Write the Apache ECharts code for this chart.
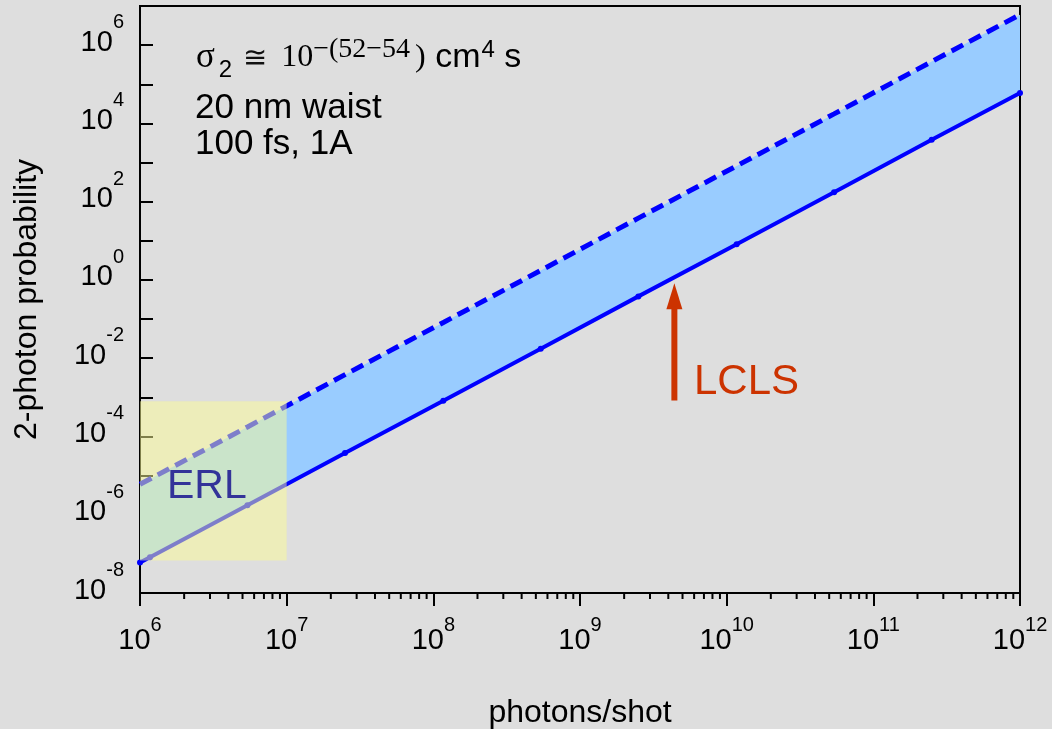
<!DOCTYPE html>
<html><head><meta charset="utf-8">
<script src="https://cdn.jsdelivr.net/npm/echarts@6/dist/echarts.min.js"></script>
<style>html,body{margin:0;padding:0;background:#dedede}#c{width:1052px;height:729px}</style>
</head><body><div id="c"></div>
<script>
// ---- data ----
const photons  = [1e6, 1.17e6, 5.4e6, 2.5e7, 1.17e8, 5.4e8, 2.5e9, 1.17e10, 5.4e10, 2.5e11, 1e12];
const probLow  = [6.0e-8, 8.2e-8, 1.75e-6, 3.8e-5, 8.2e-4, 1.75e-2, 0.38, 8.2, 175, 3800, 6.0e4];
const probHigh = [6.0e-6, 8.2e-6, 1.75e-4, 3.8e-3, 8.2e-2, 1.75, 38, 820, 1.75e4, 3.8e5, 6.0e6];
const xDecades = [1e6, 1e7, 1e8, 1e9, 1e10, 1e11];
const minorMultipliers = [2, 3, 4, 5, 6, 7, 8, 9];
const erlX = [1e6, 1e7];
const erlY = [6.8e-8, 8.0e-4];
const lclsX = 4.4e9;
const lclsY = [8.3e-4, 0.82];
const xRange = [1e6, 1e12];
const yRange = [1e-8, 1e7];

const minorX = [];
xDecades.forEach(d => minorMultipliers.forEach(m => minorX.push([d * m, yRange[0]])));

const SANS = 'Liberation Sans';
const SERIF = 'Liberation Serif';
const expOf = v => Math.round(Math.log10(v));
const xFmt = v => '{b|10}{s|' + expOf(v) + '}';
const yFmt = v => (expOf(v) % 2 === 0 ? '{b|10}{s|' + expOf(v) + '}' : '');

const chart = echarts.init(document.getElementById('c'), null, {renderer: 'canvas'});
chart.setOption({
  backgroundColor: '#dedede',
  animation: false,
  grid: {left: 140, right: 32, top: 6, bottom: 136, containLabel: false, outerBoundsMode: 'none',
         show: true, borderColor: '#000', borderWidth: 2, backgroundColor: 'transparent'},
  xAxis: {
    type: 'log', logBase: 10, min: xRange[0], max: xRange[1], interval: 1,
    name: 'photons/shot', nameLocation: 'middle', nameGap: 104,
    nameTextStyle: {fontFamily: SANS, fontSize: 32, color: '#000'},
    axisLine: {lineStyle: {color: '#000', width: 2}},
    axisTick: {inside: false, length: 13, interval: 0, lineStyle: {color: '#000', width: 2}},
    splitLine: {show: false},
    axisLabel: {
      margin: 22, formatter: xFmt, color: '#000', showMinLabel: true, showMaxLabel: true, hideOverlap: false,
      rich: {
        b: {fontFamily: SANS, fontSize: 29, height: 30, verticalAlign: 'bottom', color: '#000'},
        s: {fontFamily: SANS, fontSize: 20, height: 20, verticalAlign: 'top', padding: [0, 0, 21, 0], color: '#000'}
      }
    }
  },
  yAxis: {
    type: 'log', logBase: 10, min: yRange[0], max: yRange[1], interval: 1,
    name: '2-photon probability', nameLocation: 'middle', nameGap: 97, nameRotate: 90,
    nameTextStyle: {fontFamily: SANS, fontSize: 32, color: '#000'},
    axisLine: {lineStyle: {color: '#000', width: 2}},
    axisTick: {inside: true, length: 13, interval: 0, lineStyle: {color: '#000', width: 2}},
    splitLine: {show: false},
    axisLabel: {
      margin: 16, formatter: yFmt, color: '#000', showMinLabel: true, showMaxLabel: true, hideOverlap: false,
      rich: {
        b: {fontFamily: SANS, fontSize: 29, height: 30, verticalAlign: 'bottom', padding: [0, 0, 20, 0], color: '#000'},
        s: {fontFamily: SANS, fontSize: 20, height: 20, verticalAlign: 'top', padding: [0, 0, 45, 0], color: '#000'}
      }
    }
  },
  series: [
    { // band between the two lines
      type: 'custom', z: 1, clip: true, silent: true,
      data: [[photons[0], probLow[0]]],
      renderItem: (params, api) => {
        const pts = photons.map((x, i) => api.coord([x, probHigh[i]]));
        for (let i = photons.length - 1; i >= 0; i--) pts.push(api.coord([photons[i], probLow[i]]));
        return {type: 'polygon', shape: {points: pts}, style: {fill: '#99ccff'}};
      }
    },
    {
      name: 'upper', type: 'line', z: 3, data: photons.map((x, i) => [x, probHigh[i]]),
      showSymbol: false, symbol: 'none',
      lineStyle: {color: '#0000ff', width: 5, type: [13, 7], cap: 'butt'}
    },
    {
      name: 'lower', type: 'line', z: 3, data: photons.map((x, i) => [x, probLow[i]]),
      symbol: 'circle', symbolSize: 6, showSymbol: true,
      itemStyle: {color: '#0000ff'},
      lineStyle: {color: '#0000ff', width: 4}
    },
    { // minor ticks of the x axis at 2..9 x 10^n
      type: 'custom', z: 4, clip: false, silent: true, data: minorX,
      renderItem: (params, api) => {
        const p = api.coord([api.value(0), api.value(1)]);
        return {type: 'line', shape: {x1: p[0], y1: p[1], x2: p[0], y2: p[1] + 6}, style: {stroke: '#000', lineWidth: 2}};
      }
    },
    { // ERL box
      type: 'custom', z: 5, clip: true, silent: true,
      data: [[erlX[0], erlY[1]]],
      renderItem: (params, api) => {
        const a = api.coord([erlX[0], erlY[1]]);
        const b = api.coord([erlX[1], erlY[0]]);
        return {type: 'rect', shape: {x: a[0], y: a[1], width: b[0] - a[0], height: b[1] - a[1]},
                style: {fill: 'rgba(252,252,150,0.5)'}};
      }
    },
    { // LCLS arrow
      type: 'custom', z: 6, clip: false, silent: true,
      data: [[lclsX, lclsY[1]]],
      renderItem: (params, api) => {
        const b = api.coord([lclsX, lclsY[0]]);
        const t = api.coord([lclsX, lclsY[1]]);
        return {type: 'group', children: [
          {type: 'line', shape: {x1: b[0], y1: b[1], x2: t[0], y2: t[1] + 24}, style: {stroke: '#cc3300', lineWidth: 6}},
          {type: 'polygon', shape: {points: [[t[0], t[1]], [t[0] - 8, t[1] + 26], [t[0] + 8, t[1] + 26]]}, style: {fill: '#cc3300'}}
        ]};
      }
    }
  ],
  graphic: [
    {type: 'text', x: 196, y: 39, z: 100, style: {
      text: '{sig|σ}{sub|2}{sym|≅}{ten|10}{sup|−(52−54}{ser|)}{main| cm}{asup|4}{main| s}',
      align: 'left', verticalAlign: 'top',
      rich: {
        sig:  {fontFamily: SERIF, fontSize: 35, height: 34, verticalAlign: 'top', padding: [2, 0, 0, 0], fill: '#000'},
        sym:  {fontFamily: 'DejaVu Serif', fontSize: 29, height: 34, verticalAlign: 'top', padding: [3, 0, 0, 11], fill: '#111'},
        ten:  {fontFamily: SERIF, fontSize: 32, height: 34, verticalAlign: 'top', padding: [2, 0, 0, 14], fill: '#000'},
        ser:  {fontFamily: SERIF, fontSize: 32, height: 34, verticalAlign: 'top', padding: [2, 0, 0, 0], fill: '#000'},
        main: {fontFamily: SANS, fontSize: 34, height: 34, verticalAlign: 'top', padding: [2, 0, 0, 0], fill: '#000'},
        sub:  {fontFamily: SANS, fontSize: 24, height: 24, verticalAlign: 'top', padding: [19, 0, 0, 4], fill: '#000'},
        sup:  {fontFamily: SERIF, fontSize: 28, height: 22, verticalAlign: 'top', padding: [0, 5, 0, 0], fill: '#000'},
        asup: {fontFamily: SANS, fontSize: 24, height: 22, verticalAlign: 'top', padding: [0, 0, 0, 1], fill: '#000'}
      }
    }},
    {type: 'text', x: 195, y: 108.5, z: 100, style: {text: '20 nm waist', font: '35px "Liberation Sans"', fill: '#000', align: 'left', verticalAlign: 'middle'}},
    {type: 'text', x: 195, y: 144, z: 100, style: {text: '100 fs, 1A', font: '35px "Liberation Sans"', fill: '#000', align: 'left', verticalAlign: 'middle'}},
    {type: 'text', x: 167, y: 486.5, z: 100, style: {text: 'ERL', font: '41px "Liberation Sans"', fill: '#333399', align: 'left', verticalAlign: 'middle'}},
    {type: 'text', x: 694, y: 382.5, z: 100, style: {text: 'LCLS', font: '42px "Liberation Sans"', fill: '#cc3300', align: 'left', verticalAlign: 'middle'}}
  ]
});
</script></body></html>
